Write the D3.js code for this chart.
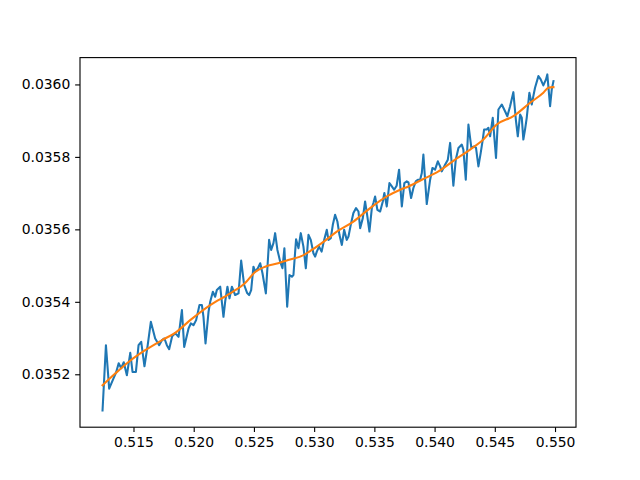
<!DOCTYPE html>
<html>
<head>
<meta charset="utf-8">
<script src="https://cdn.jsdelivr.net/npm/d3@7"></script>
<style>
  html, body { margin: 0; padding: 0; background: #fff; }
  svg { display: block; }
  text { font-family: "DejaVu Sans", sans-serif; }
</style>
</head>
<body>
<svg id="chart" width="640" height="480"></svg>
<script>
// ---- data ----
const rawX = [0.51243,0.51271,0.51298,0.51334,0.51356,0.51377,0.51398,0.51419,0.51445,0.51473,
0.51492,0.51520,0.51542,0.51564,0.51591,0.51618,0.51644,0.51680,0.51713,0.51736,
0.51757,0.51777,0.51796,0.51821,0.51846,0.51874,0.51902,0.51921,0.51957,0.51976,
0.51998,0.52020,0.52048,0.52068,0.52081,0.52098,0.52123,0.52137,0.52159,0.52178,
0.52192,0.52220,0.52247,0.52261,0.52280,0.52297,0.52317,0.52344,0.52372,0.52394,
0.52419,0.52444,0.52460,0.52477,0.52496,0.52510,0.52533,0.52552,0.52571,0.52599,
0.52626,0.52643,0.52662,0.52676,0.52695,0.52718,0.52737,0.52753,0.52776,0.52795,
0.52815,0.52828,0.52850,0.52870,0.52889,0.52911,0.52931,0.52953,0.52972,0.52994,
0.53008,0.53022,0.53041,0.53062,0.53083,0.53105,0.53119,0.53138,0.53155,0.53174,
0.53193,0.53210,0.53230,0.53249,0.53271,0.53285,0.53304,0.53326,0.53348,0.53368,
0.53382,0.53404,0.53423,0.53442,0.53459,0.53479,0.53492,0.53506,0.53525,0.53548,
0.53570,0.53583,0.53603,0.53625,0.53645,0.53664,0.53685,0.53705,0.53728,0.53749,
0.53769,0.53783,0.53805,0.53824,0.53844,0.53861,0.53880,0.53894,0.53907,0.53935,
0.53963,0.53982,0.54004,0.54027,0.54046,0.54060,0.54087,0.54110,0.54129,0.54156,
0.54176,0.54198,0.54226,0.54239,0.54259,0.54281,0.54305,0.54328,0.54344,0.54364,
0.54383,0.54400,0.54411,0.54433,0.54447,0.54461,0.54483,0.54510,0.54530,0.54558,
0.54585,0.54604,0.54627,0.54654,0.54676,0.54691,0.54710,0.54724,0.54737,0.54751,
0.54765,0.54787,0.54807,0.54820,0.54834,0.54862,0.54881,0.54903,0.54925,0.54936,
0.54959,0.54973,0.54987];

const rawY = [0.0351003,0.0352803,0.0351604,0.0351889,0.0352055,0.0352305,0.0352166,0.0352332,0.0351972,0.0352590,
0.0352064,0.0352064,0.0352803,0.0352894,0.0352221,0.0352803,0.0353448,0.0352988,0.0352803,0.0352941,
0.0352988,0.0352803,0.0352692,0.0353052,0.0353135,0.0353033,0.0353772,0.0352756,0.0353265,0.0353403,
0.0353356,0.0353495,0.0353910,0.0353910,0.0353586,0.0352850,0.0353725,0.0354001,0.0354278,0.0354140,
0.0354325,0.0354417,0.0353586,0.0354001,0.0354417,0.0354096,0.0354417,0.0354187,0.0354234,0.0355136,
0.0354464,0.0354242,0.0354187,0.0354325,0.0354970,0.0354832,0.0354926,0.0355064,0.0354788,0.0354234,
0.0355709,0.0355433,0.0355618,0.0355895,0.0355433,0.0355109,0.0354926,0.0355480,0.0353863,0.0354741,
0.0354693,0.0354741,0.0355729,0.0355480,0.0355895,0.0355524,0.0354926,0.0355848,0.0355709,0.0355341,
0.0355247,0.0355386,0.0355524,0.0355386,0.0355709,0.0355986,0.0355709,0.0355756,0.0356125,0.0356401,
0.0356216,0.0355848,0.0355571,0.0355986,0.0355709,0.0355801,0.0356125,0.0356449,0.0356587,0.0356493,
0.0356033,0.0356310,0.0356770,0.0356354,0.0355939,0.0356587,0.0356725,0.0356908,0.0356540,0.0356493,
0.0356770,0.0357002,0.0356631,0.0357279,0.0357185,0.0357093,0.0357204,0.0357647,0.0356631,0.0357279,
0.0357323,0.0357296,0.0356864,0.0357141,0.0357323,0.0357370,0.0357370,0.0357556,0.0358062,0.0356698,
0.0357370,0.0357694,0.0357647,0.0357877,0.0357738,0.0357600,0.0357786,0.0357924,0.0358386,0.0357204,
0.0357924,0.0358248,0.0358339,0.0358201,0.0357370,0.0358893,0.0358256,0.0358292,0.0358248,0.0357738,
0.0358109,0.0358478,0.0358754,0.0358754,0.0358802,0.0358569,0.0359078,0.0357971,0.0359308,0.0359446,
0.0359261,0.0359123,0.0359400,0.0359787,0.0358984,0.0358569,0.0359170,0.0359078,0.0358478,0.0358754,
0.0359078,0.0359770,0.0359446,0.0359676,0.0359909,0.0360230,0.0360139,0.0359972,0.0360139,0.0360277,
0.0359400,0.0359862,0.0360091];

const smoothX = [0.51243,0.51348,0.51459,0.51597,0.51736,0.51846,0.51971,0.52137,0.52303,0.52427,
0.52510,0.52593,0.52701,0.52784,0.52884,0.52981,0.53091,0.53188,0.53326,0.53465,
0.53603,0.53714,0.53783,0.53894,0.54032,0.54170,0.54295,0.54405,0.54516,0.54654,
0.54793,0.54903,0.54945,0.54987];

const smoothY = [0.0351695,0.0352019,0.0352340,0.0352664,0.0352941,0.0353143,0.0353495,0.0353910,0.0354234,0.0354519,
0.0354824,0.0354970,0.0355064,0.0355156,0.0355247,0.0355433,0.0355690,0.0355939,0.0356216,0.0356587,
0.0356908,0.0357093,0.0357185,0.0357370,0.0357600,0.0357924,0.0358201,0.0358478,0.0358893,0.0359123,
0.0359494,0.0359770,0.0359909,0.0359925];

const xTicks = [0.515, 0.520, 0.525, 0.530, 0.535, 0.540, 0.545, 0.550];
const yTicks = [0.0352, 0.0354, 0.0356, 0.0358, 0.0360];

// ---- layout ----
const mLeft = 80, mTop = 57.6, pw = 496, ph = 369.6;
const svg = d3.select("#chart");

function padded(ext) {
  const r = ext[1] - ext[0];
  return [ext[0] - 0.05 * r, ext[1] + 0.05 * r];
}
const xExt = d3.extent(rawX.concat(smoothX));
const yExt = d3.extent(rawY.concat(smoothY));
const x = d3.scaleLinear().domain(padded(xExt)).range([mLeft, mLeft + pw]);
const y = d3.scaleLinear().domain(padded(yExt)).range([mTop + ph, mTop]);

svg.append("defs").append("clipPath").attr("id", "clip")
  .append("rect").attr("x", mLeft).attr("y", mTop).attr("width", pw).attr("height", ph);

const g = svg.append("g");

const raw = rawX.map((v, i) => [v, rawY[i]]);
const smooth = smoothX.map((v, i) => [v, smoothY[i]]);

const line = d3.line().x(d => x(d[0])).y(d => y(d[1]));
const sline = d3.line().x(d => x(d[0])).y(d => y(d[1])).curve(d3.curveMonotoneX);

g.append("path").datum(raw)
  .attr("clip-path", "url(#clip)")
  .attr("fill", "none").attr("stroke", "#1f77b4").attr("stroke-width", 2.08)
  .attr("stroke-linejoin", "round").attr("stroke-linecap", "square")
  .attr("d", line);

g.append("path").datum(smooth)
  .attr("clip-path", "url(#clip)")
  .attr("fill", "none").attr("stroke", "#ff7f0e").attr("stroke-width", 2.08)
  .attr("stroke-linejoin", "round").attr("stroke-linecap", "square")
  .attr("d", sline);

// axes
const fs = "13.9px";
const xAxis = d3.axisBottom(x).tickValues(xTicks).tickFormat(d3.format(".3f"))
  .tickSizeInner(4.86).tickSizeOuter(0).tickPadding(4.86);
const yAxis = d3.axisLeft(y).tickValues(yTicks).tickFormat(d3.format(".4f"))
  .tickSizeInner(4.86).tickSizeOuter(0).tickPadding(4.86);

const gx = svg.append("g").attr("transform", `translate(0,${mTop + ph})`).call(xAxis);
const gy = svg.append("g").attr("transform", `translate(${mLeft},0)`).call(yAxis);
[gx, gy].forEach(a => {
  a.select(".domain").remove();
  a.selectAll(".tick line").attr("stroke", "#000").attr("stroke-width", 1.11);
  a.selectAll(".tick text").attr("fill", "#000").style("font-size", fs)
    .style("font-family", "'DejaVu Sans', sans-serif");
});

// frame
svg.append("rect").attr("x", mLeft).attr("y", mTop).attr("width", pw).attr("height", ph)
  .attr("fill", "none").attr("stroke", "#000").attr("stroke-width", 1.11);
</script>
</body>
</html>
